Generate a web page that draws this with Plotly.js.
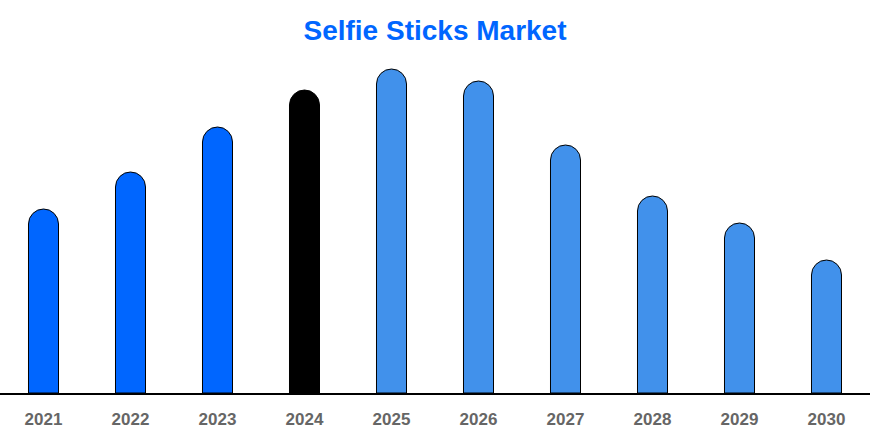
<!DOCTYPE html>
<html>
<head>
<meta charset="utf-8">
<script src="https://cdn.plot.ly/plotly-3.0.1.min.js"></script>
<style>
  html, body { margin: 0; padding: 0; background: #fff; }
  #chart { width: 870px; height: 435px; }
</style>
</head>
<body>
<div id="chart"></div>
<script>
// market size per year (arbitrary units)
var years = ["2021", "2022", "2023", "2024", "2025", "2026", "2027", "2028", "2029", "2030"];
var marketValues = [18.4, 22.1, 26.6, 30.3, 32.4, 31.2, 24.8, 19.7, 17.0, 13.3];
var barColors = ["#0066ff", "#0066ff", "#0066ff", "#000000",
                 "#4191eb", "#4191eb", "#4191eb", "#4191eb", "#4191eb", "#4191eb"];

var marketTrace =
{
    x: years,
    y: marketValues,
    type: "bar",
    marker: {
        color: barColors,
        line: { color: "#000000", width: 1 },
        cornerradius: "50%"
    },
    hoverinfo: "x+y"
};

var layout =
{
    width: 870,
    height: 435,
    margin: { l: 0, r: 0, t: 50, b: 42 },
    paper_bgcolor: "#ffffff",
    plot_bgcolor: "#ffffff",
    bargap: 0.655,
    showlegend: false,
    title: {
        text: "<b>Selfie Sticks Market</b>",
        font: { family: "Liberation Sans, Arial, sans-serif", size: 28, color: "#0066ff" },
        x: 0.5,
        xanchor: "center",
        y: 1 - 30 / 435,
        yanchor: "middle",
        yref: "container"
    },
    xaxis: {
        type: "category",
        showline: true,
        linecolor: "#000000",
        linewidth: 2,
        showgrid: false,
        zeroline: false,
        ticks: "",
        ticklabelstandoff: 10,
        tickfont: { family: "Liberation Sans, Arial, sans-serif", size: 17, color: "#666666", weight: "bold" }
    },
    yaxis: {
        range: [0, 34.3],
        visible: false,
        showgrid: false,
        zeroline: false
    }
};

Plotly.newPlot("chart", [marketTrace], layout, { staticPlot: true, displayModeBar: false });
</script>
</body>
</html>
